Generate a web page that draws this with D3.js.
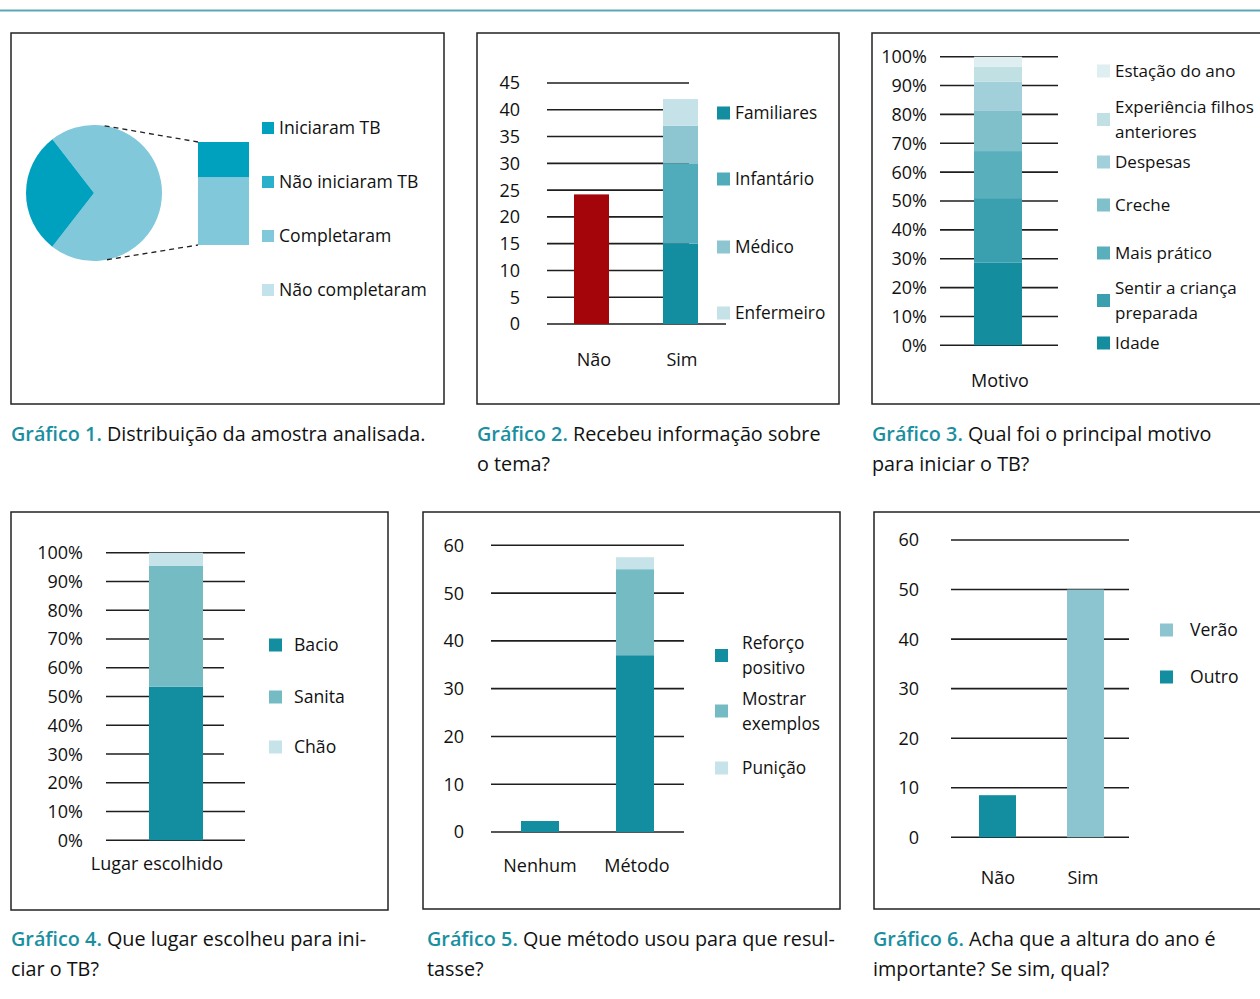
<!DOCTYPE html>
<html>
<head>
<meta charset="utf-8">
<script src="https://cdn.jsdelivr.net/npm/d3@7"></script>
<style>
body { margin:0; background:#fff; }
svg text { font-family:"Open Sans", sans-serif; fill:#111; }
</style>
</head>
<body>
<script>
// ---- data ----
const g1Legend = ["Iniciaram TB", "Não iniciaram TB", "Completaram", "Não completaram"];
const g1Colors = ["#00a0bf", "#2ab0cb", "#80c8da", "#c2e3eb"];
const g1Pie = [71, 29];          // light part, dark part
const g1PieColor = [2, 0];
const g1Bar = [66, 34];          // bottom, top
const g1BarColor = [2, 0];

const g2Cats = ["Não", "Sim"];
const g2Series = ["Familiares", "Infantário", "Médico", "Enfermeiro"];
const g2Colors = ["#138ea0", "#50abbb", "#8dc5d0", "#c5e2e8"];
const g2Nao = [24.2];
const g2Sim = [15, 15, 7, 5];
const g2Ticks = [0, 5, 10, 15, 20, 25, 30, 35, 40, 45];

const g3Cat = "Motivo";
const g3Series = ["Idade", "Sentir a criança preparada", "Mais prático", "Creche", "Despesas", "Experiência filhos anteriores", "Estação do ano"];
const g3Colors = ["#148e9f", "#3aa0b0", "#5aafbd", "#7fc0ca", "#a1d0da", "#c0e0e4", "#deeef1"];
const g3Values = [28.6, 22.4, 16.3, 13.9, 10.1, 5.2, 3.5];
const pctTicks = [0, 10, 20, 30, 40, 50, 60, 70, 80, 90, 100];

const g4Cat = "Lugar escolhido";
const g4Series = ["Bacio", "Sanita", "Chão"];
const g4Colors = ["#138ea0", "#74bbc4", "#c5e3e8"];
const g4Values = [53.4, 42.0, 4.6];

const g5Cats = ["Nenhum", "Método"];
const g5Series = ["Reforço positivo", "Mostrar exemplos", "Punição"];
const g5Colors = ["#138ea0", "#74bbc4", "#c5e3e8"];
const g5Nenhum = [2.3, 0, 0];
const g5Metodo = [37, 18, 2.5];
const g5Ticks = [0, 10, 20, 30, 40, 50, 60];

const g6Cats = ["Não", "Sim"];
const g6Series = ["Verão", "Outro"];
const g6Colors = ["#8cc5cf", "#138ea0"];
const g6Values = [8.5, 50];
const g6BarColor = [1, 0];
const g6Ticks = [0, 10, 20, 30, 40, 50, 60];

const captions = [
  ["Gráfico 1.", ["Distribuição da amostra analisada."]],
  ["Gráfico 2.", ["Recebeu informação sobre", "o tema?"]],
  ["Gráfico 3.", ["Qual foi o principal motivo", "para iniciar o TB?"]],
  ["Gráfico 4.", ["Que lugar escolheu para ini-", "ciar o TB?"]],
  ["Gráfico 5.", ["Que método usou para que resul-", "tasse?"]],
  ["Gráfico 6.", ["Acha que a altura do ano é", "importante? Se sim, qual?"]]
];

// ---- page ----
const svg = d3.select("body").append("svg")
  .attr("width", 1260).attr("height", 999);

svg.append("line")
  .attr("x1", 0).attr("x2", 1260).attr("y1", 10.5).attr("y2", 10.5)
  .attr("stroke", "#5aa9b2").attr("stroke-width", 2);

function box(x, y, w, h) {
  svg.append("rect").attr("x", x).attr("y", y).attr("width", w).attr("height", h)
    .attr("fill", "none").attr("stroke", "#222").attr("stroke-width", 1.5);
}

function grid(y, ticks, x1, x2fn, labelX, fmt) {
  const g = svg.append("g");
  g.selectAll("line").data(ticks).join("line")
    .attr("x1", x1).attr("x2", d => x2fn(d))
    .attr("y1", d => y(d)).attr("y2", d => y(d))
    .attr("stroke", "#1e1e1e").attr("stroke-width", 1.6);
  g.selectAll("text").data(ticks).join("text")
    .attr("x", labelX).attr("y", d => y(d)).attr("dy", "0.36em")
    .attr("text-anchor", "end").style("font-size", "18px")
    .text(fmt || (d => d));
}

function stack(x, cat, width, y, values, colors) {
  const tops = d3.cumsum(values);
  svg.append("g").selectAll("rect").data(values).join("rect")
    .attr("x", x(cat) - width / 2).attr("width", width)
    .attr("y", (d, i) => y(tops[i]))
    .attr("height", (d, i) => y(tops[i] - d) - y(tops[i]))
    .attr("fill", (d, i) => colors[i]);
}

function legend(items, colors, sqX, ys, txtX, size, fs) {
  const g = svg.append("g");
  items.forEach((name, i) => {
    g.append("rect").attr("x", sqX).attr("y", ys[i] - size / 2)
      .attr("width", size).attr("height", size).attr("fill", colors[i]);
    const lines = name.lines || [name];
    const t = g.append("text").attr("x", txtX).style("font-size", (fs || 17.6) + "px");
    const y0 = ys[i] - (lines.length - 1) * 12.5;
    lines.forEach((l, k) => {
      t.append("tspan").attr("x", txtX).attr("y", y0 + k * 25).attr("dy", "0.36em").text(l);
    });
  });
}

function xLabels(x, cats, yPos) {
  svg.append("g").selectAll("text").data(cats).join("text")
    .attr("x", d => x(d)).attr("y", yPos).attr("dy", "0.36em")
    .attr("text-anchor", "middle").style("font-size", "18px").text(d => d);
}

// ---- Gráfico 1 ----
box(11, 33, 433, 371);
{
  const cx = 94, cy = 193, r = 68;
  const pie = d3.pie().sort(null).startAngle(-37.7 * Math.PI / 180)
    .endAngle((360 - 37.7) * Math.PI / 180);
  const arc = d3.arc().innerRadius(0).outerRadius(r);
  svg.append("g").attr("transform", `translate(${cx},${cy})`)
    .selectAll("path").data(pie(g1Pie)).join("path")
    .attr("d", arc).attr("fill", (d, i) => g1Colors[g1PieColor[i]]);

  const by = d3.scaleLinear().domain([0, d3.sum(g1Bar)]).range([245, 142]);
  const bx = d3.scalePoint().domain(["bar"]).range([223.5, 223.5]);
  stack(bx, "bar", 51, by, g1Bar, g1BarColor.map(c => g1Colors[c]));

  // connector lines from the pie to the bar
  const conn = [[9, d3.sum(g1Bar)], [169, 0]];
  svg.append("g").selectAll("line").data(conn).join("line")
    .attr("x1", d => cx + r * Math.sin(d[0] * Math.PI / 180))
    .attr("y1", d => cy - r * Math.cos(d[0] * Math.PI / 180))
    .attr("x2", bx("bar") - 25.5).attr("y2", d => by(d[1]))
    .attr("stroke", "#222").attr("stroke-width", 1.3).attr("stroke-dasharray", "5,4");

  legend(g1Legend, g1Colors, 262, [128, 182, 236, 290], 279, 12);
}

// ---- Gráfico 2 ----
box(477, 33, 362, 371);
{
  const y = d3.scaleLinear().domain([0, 45]).range([324, 83]);
  const x = d3.scalePoint().domain(g2Cats).range([591.5, 680.5]);
  grid(y, g2Ticks, 547, d => d === 0 ? 726 : 689, 520);
  stack(x, "Não", 35, y, g2Nao, ["#a3050a"]);
  stack(x, "Sim", 35, y, g2Sim, g2Colors);
  xLabels(d3.scalePoint().domain(g2Cats).range([594, 682]), g2Cats, 360);
  legend(g2Series, g2Colors, 717, [113, 179, 247, 313], 735, 13, 17.3);
}

// ---- Gráfico 3 ----
box(872, 33, 400, 371);
{
  const y = d3.scaleLinear().domain([0, 100]).range([345.3, 56.7]);
  const x = d3.scalePoint().domain([g3Cat]).range([998, 998]);
  grid(y, pctTicks, 940, () => 1058, 927, d => d + "%");
  stack(x, g3Cat, 48, y, g3Values, g3Colors);
  xLabels(d3.scalePoint().domain([g3Cat]).range([1000, 1000]), [g3Cat], 381);
  const items = g3Series.slice().reverse().map(s =>
    s === "Experiência filhos anteriores" ? { lines: ["Experiência filhos", "anteriores"] } :
    s === "Sentir a criança preparada" ? { lines: ["Sentir a criança", "preparada"] } : s);
  legend(items, g3Colors.slice().reverse(), 1097, [71, 119.5, 162, 205, 253, 300.5, 343], 1115, 13, 17);
}

// ---- Gráfico 4 ----
box(11, 512, 377, 398);
{
  const y = d3.scaleLinear().domain([0, 100]).range([840.3, 552.7]);
  const x = d3.scalePoint().domain([g4Cat]).range([176, 176]);
  grid(y, pctTicks, 106, d => (d >= 30 && d <= 70) ? 224 : 245, 83, d => d + "%");
  stack(x, g4Cat, 54, y, g4Values, g4Colors);
  xLabels(d3.scalePoint().domain([g4Cat]).range([157, 157]), [g4Cat], 864);
  legend(g4Series, g4Colors, 269, [645, 697, 747], 294, 13);
}

// ---- Gráfico 5 ----
box(423, 512, 417, 397);
{
  const y = d3.scaleLinear().domain([0, 60]).range([832, 545.3]);
  const x = d3.scalePoint().domain(g5Cats).range([540, 635]);
  grid(y, g5Ticks, 491, () => 684, 464);
  stack(x, "Nenhum", 38, y, g5Nenhum, g5Colors);
  stack(x, "Método", 38, y, g5Metodo, g5Colors);
  xLabels(d3.scalePoint().domain(g5Cats).range([540, 637]), g5Cats, 866);
  const items = [{ lines: ["Reforço", "positivo"] }, { lines: ["Mostrar", "exemplos"] }, "Punição"];
  legend(items, g5Colors, 715, [655.5, 711, 768], 742, 13, 17.3);
}

// ---- Gráfico 6 ----
box(874, 512, 400, 397);
{
  const y = d3.scaleLinear().domain([0, 60]).range([837.3, 540]);
  const x = d3.scalePoint().domain(g6Cats).range([997.5, 1085.5]);
  grid(y, g6Ticks, 951, () => 1129, 919);
  g6Cats.forEach((c, i) => stack(x, c, 37, y, [g6Values[i]], [g6Colors[g6BarColor[i]]]));
  xLabels(d3.scalePoint().domain(g6Cats).range([998, 1083]), g6Cats, 878);
  legend(g6Series, g6Colors, 1160, [630, 677], 1190, 13);
}

// ---- captions ----
const capPos = [[11, 441], [477, 441], [872, 441], [11, 946], [427, 946], [873, 946]];
captions.forEach((c, i) => {
  const [x, y] = capPos[i];
  c[1].forEach((line, k) => {
    const t = svg.append("text").attr("x", x).attr("y", y + k * 30).style("font-size", "19.8px");
    if (k === 0) {
      t.append("tspan").style("fill", "#1a8fa0").style("font-weight", "600").text(c[0] + " ");
    }
    t.append("tspan").text(line);
  });
});
</script>
</body>
</html>
